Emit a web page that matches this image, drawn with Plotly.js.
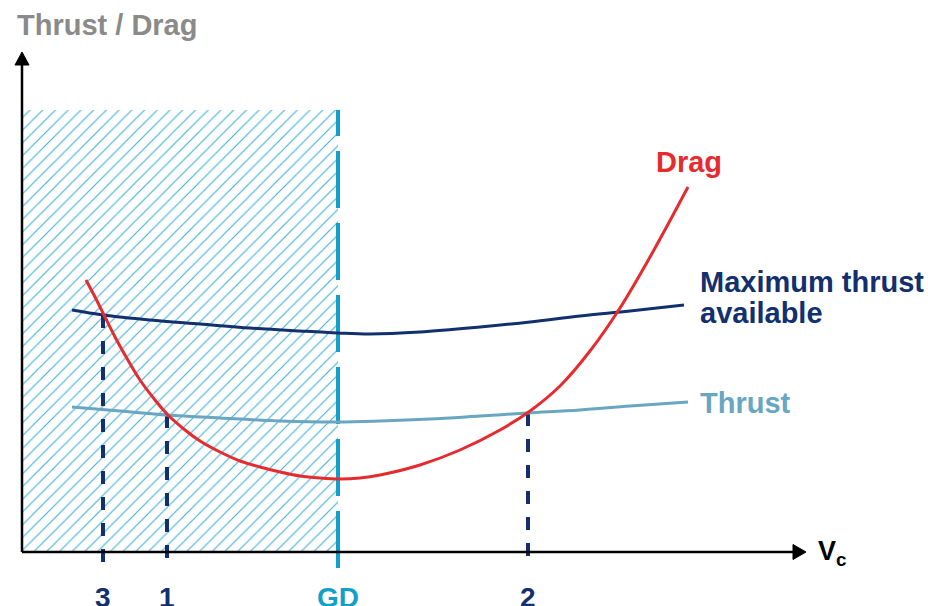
<!DOCTYPE html>
<html>
<head>
<meta charset="utf-8">
<script src="https://cdn.plot.ly/plotly-3.0.1.min.js"></script>
<style>html,body{margin:0;padding:0;background:#fff}#chart{width:928px;height:606px}</style>
</head>
<body>
<div id="chart"></div>
<script>
// Data (abstract units: speed along x, force along y; origin at axes corner)
var maxThrustX = [50, 81, 128, 178, 228, 278, 316, 348, 398, 458, 508, 558, 608, 662];
var maxThrustY = [242, 237, 232, 228, 224, 221, 219, 218, 220, 225, 230, 236, 241, 247];

var thrustX = [50, 98, 145, 198, 258, 316, 358, 408, 458, 506, 558, 608, 666];
var thrustY = [145, 141, 137, 134, 131, 130, 131, 133, 136, 139, 142, 146, 150];

var dragX = [64, 73, 81, 93, 103, 118, 133, 145, 163, 178, 198, 218, 238, 258, 278, 298, 318, 338, 358, 398, 438, 478, 508, 538, 568, 598, 628, 666];
var dragY = [272, 255, 239, 215, 197, 172, 152, 138, 122, 111, 100, 91, 85, 80, 76, 74, 73, 74, 77, 87, 102, 122, 141, 166, 201, 244, 295, 365];

// Operating points (labels, x position, top of drop line)
var pointLabels = ["3", "1", "2"];
var pointX = [81, 145, 506];
var pointTop = [237, 137, 139];

// Ground-effect boundary
var gdLabel = "GD";
var gdX = 316;
var gdTop = 442;
var lineBottom = -16;

var NAVY = "#12306e", LIGHT = "#68a6c2", RED = "#e62b2f", CYAN = "#12a0c8";
var FONT = "Liberation Sans, Arial, Helvetica, sans-serif";

var traces = [];
// hatched region
traces.push({
  x: [0, gdX, gdX, 0, 0], y: [0, 0, gdTop, gdTop, 0],
  type: "scatter", mode: "none", fill: "toself", fillcolor: "#ffffff",
  fillpattern: {shape: "/", size: 9, solidity: 0.13, fgcolor: "#45b2da", bgcolor: "#ffffff"},
  hoverinfo: "skip", showlegend: false
});
// GD dashed line
traces.push({
  x: [gdX, gdX], y: [lineBottom, gdTop], type: "scatter", mode: "lines",
  line: {color: CYAN, width: 4, dash: "57px,15px"}, hoverinfo: "skip", showlegend: false
});
// drop lines
for (var i = 0; i < pointX.length; i++) {
  traces.push({
    x: [pointX[i], pointX[i]], y: [pointTop[i], lineBottom], type: "scatter", mode: "lines",
    line: {color: NAVY, width: 4, dash: "13px,13px"}, hoverinfo: "skip", showlegend: false
  });
}
traces.push({x: thrustX, y: thrustY, type: "scatter", mode: "lines",
  line: {color: LIGHT, width: 3, shape: "spline"}, showlegend: false});
traces.push({x: maxThrustX, y: maxThrustY, type: "scatter", mode: "lines",
  line: {color: NAVY, width: 3, shape: "spline"}, showlegend: false});
traces.push({x: dragX, y: dragY, type: "scatter", mode: "lines",
  line: {color: RED, width: 3, shape: "spline"}, showlegend: false});

var ann = [];
function txt(t, x, y, color, xanchor, size) {
  ann.push({text: t, x: x, y: y, xref: "x", yref: "y", showarrow: false,
    xanchor: xanchor || "left", yanchor: "middle", align: "left",
    font: {family: FONT, size: size || 29, color: color, weight: 700}});
}
txt("<b>Thrust / Drag</b>", -7, 527, "#8a8a8a", "left", 29);
txt("<b>Drag</b>", 632, 390, RED, "left", 29);
txt("<b>Maximum thrust</b>", 676, 270, NAVY, "left", 29);
txt("<b>available</b>", 676, 239, NAVY, "left", 29);
txt("<b>Thrust</b>", 676, 149, LIGHT, "left", 29);
txt("<b>V<sub>c</sub></b>", 794, -1, "#000000", "left", 27);
for (var j = 0; j < pointX.length; j++) txt("<b>" + pointLabels[j] + "</b>", pointX[j], -45, NAVY, "center", 28);
txt("<b>" + gdLabel + "</b>", gdX, -45, CYAN, "center", 28);

var shapes = [
  {type: "line", x0: 0, y0: 0, x1: 776, y1: 0, line: {color: "#000", width: 2.5}},
  {type: "line", x0: 0, y0: 0, x1: 0, y1: 490, line: {color: "#000", width: 2.5}},
  {type: "path", path: "M 771 7.5 L 784 0 L 771 -7.5 Z", fillcolor: "#000", line: {color: "#000", width: 1}},
  {type: "path", path: "M -7 487 L 0 500 L 7 487 Z", fillcolor: "#000", line: {color: "#000", width: 1}}
];

var layout = {
  width: 928, height: 606,
  margin: {l: 0, r: 0, t: 0, b: 0},
  paper_bgcolor: "#fff", plot_bgcolor: "#fff",
  xaxis: {range: [-22, 906], visible: false, fixedrange: true},
  yaxis: {range: [-54, 552], visible: false, fixedrange: true},
  annotations: ann, shapes: shapes, showlegend: false
};
Plotly.newPlot("chart", traces, layout, {staticPlot: true, displayModeBar: false});
</script>
</body>
</html>
